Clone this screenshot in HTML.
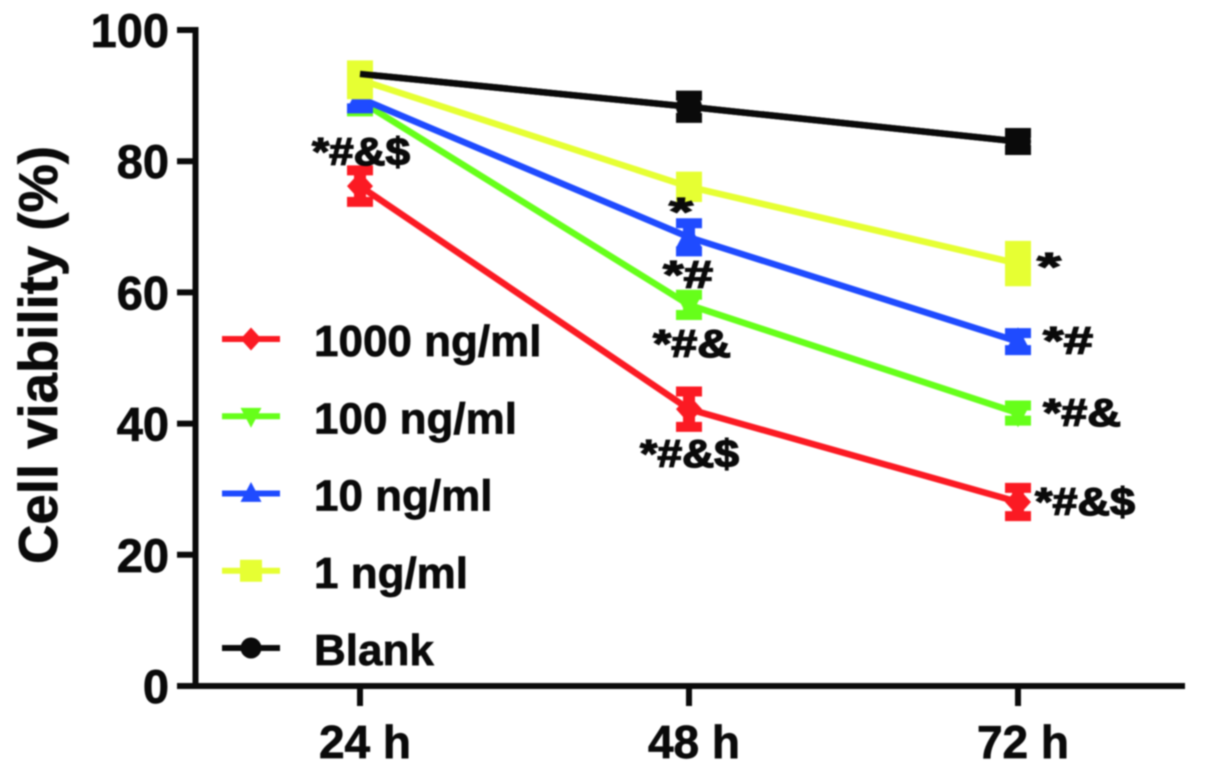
<!DOCTYPE html>
<html>
<head>
<meta charset="utf-8">
<title>Cell viability chart</title>
<style>
html,body{margin:0;padding:0;background:#fff;width:1205px;height:778px;overflow:hidden}
svg{display:block;filter:blur(0.7px)}
text{font-family:"Liberation Sans",sans-serif;font-weight:700;fill:#0a0a0a;stroke:#0a0a0a;stroke-width:0.7px}
.sig text{stroke-width:1.3px}
</style>
</head>
<body>
<svg id="chart" xmlns="http://www.w3.org/2000/svg" width="1205" height="778" viewBox="0 0 1205 778">
  <rect x="0" y="0" width="1205" height="778" fill="#ffffff"/>
  <text transform="translate(57,355) rotate(-90)" text-anchor="middle" font-size="54.5">Cell viability (%)</text>
  <g id="axes"></g>
  <g id="series"></g>
  <g id="legend"></g>
  <g class="sig" font-size="39">
    <text x="312" y="165" textLength="98" lengthAdjust="spacingAndGlyphs">*#&amp;$</text>
    <text x="669" y="225" textLength="24" lengthAdjust="spacingAndGlyphs">*</text>
    <text x="663" y="288" textLength="50" lengthAdjust="spacingAndGlyphs">*#</text>
    <text x="653" y="357" textLength="78" lengthAdjust="spacingAndGlyphs">*#&amp;</text>
    <text x="640" y="467" textLength="99" lengthAdjust="spacingAndGlyphs">*#&amp;$</text>
    <text x="1037" y="280" textLength="24" lengthAdjust="spacingAndGlyphs">*</text>
    <text x="1043" y="354" textLength="50" lengthAdjust="spacingAndGlyphs">*#</text>
    <text x="1043" y="426" textLength="78" lengthAdjust="spacingAndGlyphs">*#&amp;</text>
    <text x="1035" y="515" textLength="100" lengthAdjust="spacingAndGlyphs">*#&amp;$</text>
  </g>
</svg>
<script>
var categories = ['24 h', '48 h', '72 h'];
var yTicks = [0, 20, 40, 60, 80, 100];

var blankValues = [93.3, 88.3, 83.0];
var blankErrors = [0.5, 1.7, 1.3];
var oneValues = [92.4, 76.1, 64.4];
var oneErrors = [2.2, 1.55, 2.7];
var tenValues = [89.6, 68.4, 52.5];
var tenErrors = [1.55, 2.15, 1.3];
var hundredValues = [89.2, 58.1, 41.6];
var hundredErrors = [1.6, 1.55, 1.15];
var thousandValues = [76.2, 42.2, 28.05];
var thousandErrors = [2.4, 2.7, 2.15];

var legendLabels = ['1000 ng/ml', '100 ng/ml', '10 ng/ml', '1 ng/ml', 'Blank'];

var NS = 'http://www.w3.org/2000/svg';
var INK = '#0a0a0a';

function xScale(i) { return 360 + i * 329; }
function yScale(v) { return 686 - v * 6.56; }

function make(parent, tag, attrs) {
  var el = document.createElementNS(NS, tag);
  for (var k in attrs) el.setAttribute(k, attrs[k]);
  parent.appendChild(el);
  return el;
}

function drawMarker(parent, shape, cx, cy, r, color) {
  var el;
  if (shape === 'circle') {
    el = make(parent, 'circle', {cx: cx, cy: cy, r: r, fill: color});
  } else if (shape === 'square') {
    el = make(parent, 'rect', {x: cx - r, y: cy - r, width: 2 * r, height: 2 * r, fill: color});
  } else {
    var pts;
    if (shape === 'diamond') pts = [[cx, cy - r * 1.1], [cx + r, cy], [cx, cy + r * 1.1], [cx - r, cy]];
    if (shape === 'up') pts = [[cx, cy - r * 1.1], [cx + r, cy + r * 0.8], [cx - r, cy + r * 0.8]];
    if (shape === 'down') pts = [[cx, cy + r * 1.1], [cx + r, cy - r * 0.8], [cx - r, cy - r * 0.8]];
    el = make(parent, 'polygon', {points: pts.map(function (p) { return p.join(','); }).join(' '), fill: color});
  }
  return el;
}

function linePoints(values) {
  return values.map(function (v, i) { return xScale(i) + ',' + yScale(v); }).join(' ');
}

/* Axes */
var axes = document.getElementById('axes');

var yAxisLine = make(axes, 'line', {x1: 195.5, x2: 195.5, y1: yScale(100) - 3, y2: yScale(0) + 3, stroke: INK, 'stroke-width': 6});



var xAxisLine = make(axes, 'line', {x1: 177, x2: 1185, y1: yScale(0), y2: yScale(0), stroke: INK, 'stroke-width': 6});



yTicks.forEach(function (t) {
  var tick = make(axes, 'line', {x1: 177, x2: 195, y1: yScale(t), y2: yScale(t), stroke: INK, 'stroke-width': 6});
  
  
  var label = make(axes, 'text', {x: 169, y: yScale(t) + 17, 'text-anchor': 'end', 'font-size': 47});
  label.textContent = String(t);
  
  
});

categories.forEach(function (c, i) {
  var tick = make(axes, 'line', {x1: xScale(i), x2: xScale(i), y1: yScale(0), y2: 706, stroke: INK, 'stroke-width': 6});
  
  
  var label = make(axes, 'text', {x: xScale(i) + 5, y: 758, 'text-anchor': 'middle', 'font-size': 46});
  label.textContent = c;
  
  
});

/* Series */
var seriesLayer = document.getElementById('series');

function drawSeries(name, values, errors, color, shape) {
  var g = make(seriesLayer, 'g', {});
  
  

  var line = make(g, 'polyline', {points: linePoints(values), fill: 'none', stroke: color, 'stroke-width': 6.5, 'stroke-linejoin': 'round'});
  
  

  values.forEach(function (v, i) {
    var x = xScale(i);
    var top = yScale(v + errors[i]);
    var bottom = yScale(v - errors[i]);

    var stem = make(g, 'line', {x1: x, x2: x, y1: top, y2: bottom, stroke: color, 'stroke-width': 12});
    
    

    var capTop = make(g, 'line', {x1: x - 13, x2: x + 13, y1: top, y2: top, stroke: color, 'stroke-width': 10});
    
    

    var capBottom = make(g, 'line', {x1: x - 13, x2: x + 13, y1: bottom, y2: bottom, stroke: color, 'stroke-width': 10});
    
    

    var marker = drawMarker(g, shape, x, yScale(v), 13, color);
    
    
  });
}

drawSeries('series-blank', blankValues, blankErrors, INK, 'circle');
drawSeries('series-1000-ng-ml', thousandValues, thousandErrors, '#fb1a23', 'diamond');
drawSeries('series-100-ng-ml', hundredValues, hundredErrors, '#66ff1a', 'down');
drawSeries('series-10-ng-ml', tenValues, tenErrors, '#1f4bff', 'up');
drawSeries('series-1-ng-ml', oneValues, oneErrors, '#e6ff33', 'square');

var blankOverlay = make(seriesLayer, 'polyline', {points: linePoints(blankValues), fill: 'none', stroke: INK, 'stroke-width': 6.5});



/* Legend */
var legend = document.getElementById('legend');
var legendColors = ['#fb1a23', '#66ff1a', '#1f4bff', '#e6ff33', INK];
var legendShapes = ['diamond', 'down', 'up', 'square', 'circle'];

legendLabels.forEach(function (label, i) {
  var rowY = 339 + i * 77.25;
  var g = make(legend, 'g', {});
  
  

  var sw = make(g, 'line', {x1: 222, x2: 280, y1: rowY, y2: rowY, stroke: legendColors[i], 'stroke-width': 6});
  
  

  var mk = drawMarker(g, legendShapes[i], 251, rowY, legendShapes[i] === 'square' ? 11 : 10.5, legendColors[i]);
  
  

  var txt = make(g, 'text', {x: 314, y: rowY + 17, 'font-size': 44});
  txt.textContent = label;
  
  
});
</script>
</body>
</html>
